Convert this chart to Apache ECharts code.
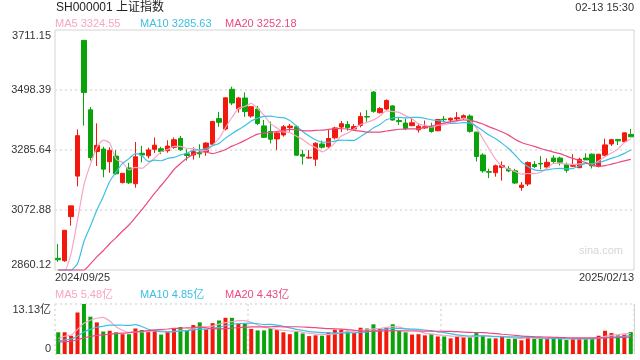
<!DOCTYPE html>
<html><head><meta charset="utf-8">
<script src="https://cdn.jsdelivr.net/npm/echarts@6/dist/echarts.min.js"></script>
<style>html,body{margin:0;padding:0;background:#fff}#c{width:640px;height:360px}</style>
</head><body><div id="c"></div>
<script>
const dates = ['2024/09/25','2024/09/26','2024/09/27','2024/09/30','2024/10/08','2024/10/09','2024/10/10','2024/10/11','2024/10/14','2024/10/15','2024/10/16','2024/10/17','2024/10/18','2024/10/21','2024/10/22','2024/10/23','2024/10/24','2024/10/25','2024/10/28','2024/10/29','2024/10/30','2024/10/31','2024/11/01','2024/11/04','2024/11/05','2024/11/06','2024/11/07','2024/11/08','2024/11/11','2024/11/12','2024/11/13','2024/11/14','2024/11/15','2024/11/18','2024/11/19','2024/11/20','2024/11/21','2024/11/22','2024/11/25','2024/11/26','2024/11/27','2024/11/28','2024/11/29','2024/12/02','2024/12/03','2024/12/04','2024/12/05','2024/12/06','2024/12/09','2024/12/10','2024/12/11','2024/12/12','2024/12/13','2024/12/16','2024/12/17','2024/12/18','2024/12/19','2024/12/20','2024/12/23','2024/12/24','2024/12/25','2024/12/26','2024/12/27','2024/12/30','2024/12/31','2025/01/02','2025/01/03','2025/01/06','2025/01/07','2025/01/08','2025/01/09','2025/01/10','2025/01/13','2025/01/14','2025/01/15','2025/01/16','2025/01/17','2025/01/20','2025/01/21','2025/01/22','2025/01/23','2025/01/24','2025/01/27','2025/02/05','2025/02/06','2025/02/07','2025/02/10','2025/02/11','2025/02/12','2025/02/13'];
const opens = [2901.42,2893.05,3049.35,3193,3674.40,3428,3280,3289,3244,3264,3170,3222,3166,3274,3265,3288,3290,3283,3295,3327,3272,3268,3276,3280,3306,3397,3360,3501,3432,3470,3406,3431,3371,3351,3325,3339,3365,3368,3270,3257,3253,3307,3297,3329,3367,3376,3360,3373,3404,3491,3418,3431,3442,3390,3381,3372,3357,3364,3368,3354,3395,3392,3396,3397,3406,3349,3268,3209,3205,3224,3219,3212,3153,3165,3234,3238,3225,3257,3257,3234,3228,3223,3257,3271,3227,3267,3307,3323,3315,3341];
const closes = [2896.31,3000.95,3087.53,3336.50,3489.78,3258.86,3301.93,3217.74,3284.32,3201.29,3202.95,3169.38,3261.56,3268.11,3285.87,3302.80,3280.26,3299.70,3322.20,3286.41,3266.24,3279.82,3272.01,3310.21,3386.99,3383.81,3470.66,3452.30,3470.07,3421.97,3439.28,3379.84,3330.73,3323.85,3346.01,3367.99,3370.40,3267.19,3263.76,3259.76,3309.78,3295.70,3326.46,3363.98,3378.81,3364.65,3368.86,3404.08,3402.53,3422.66,3432.49,3461.50,3391.88,3386.33,3361.49,3382.21,3370.03,3368.07,3351.26,3393.53,3393.35,3398.08,3400.14,3407.33,3351.76,3262.56,3211.43,3206.92,3229.64,3230.17,3211.39,3168.52,3160.76,3240.94,3227.12,3236.03,3241.82,3244.38,3242.62,3213.62,3230.16,3252.63,3250.60,3229.49,3270.66,3303.67,3322.17,3318.06,3346.39,3332.48];
const highs = [2952.45,3002,3087.53,3358.59,3674.40,3438,3380,3297,3295,3285,3204,3240,3314,3300,3294,3330,3297,3320,3330,3335,3288,3295,3306,3313,3388,3421,3472,3510,3474,3490,3440,3442,3392,3386,3348,3374,3378,3373,3286,3286,3313,3319,3359,3368,3388,3388,3377,3419,3427,3495,3438,3465,3444,3401,3397,3397,3377,3390,3382,3395,3406,3401,3420,3412,3412,3350,3274,3219,3234,3245,3229,3219,3172,3245,3246,3264,3256,3267,3262,3241,3271,3258,3274,3273,3272,3326,3325,3325,3348,3360];
const lows = [2889.05,2889,3017.46,3157,3372,3248,3229,3189,3205,3198,3167,3165,3152,3242,3256,3275,3271,3276,3290,3283,3248,3252,3258,3265,3300,3368,3355,3445,3418,3403,3400,3374,3328,3309,3286,3333,3351,3265,3234,3255,3229,3291,3293,3323,3349,3354,3354,3366,3386,3418,3415,3427,3390,3375,3356,3370,3347,3360,3347,3352,3384,3382,3386,3392,3347,3245,3205,3186,3191,3177,3207,3165,3141,3158,3222,3217,3223,3238,3231,3205,3226,3221,3250,3220,3224,3264,3300,3303,3313,3331];
const volumes = [5.7,5.7,4.8,10.9,13.13,9.8,8.3,5.9,6.1,5.7,5.2,5.2,6.7,6.3,5.9,6.3,5.1,5.8,6.6,7.1,6.2,7.6,8.3,6.5,8.1,8.8,9.5,9.5,8.0,8.0,6.6,6.2,6.2,6.8,6.3,5.7,5.2,5.9,5.4,4.7,4.9,4.8,5.7,6.4,6.4,6.1,5.5,6.9,6.7,7.8,6.6,7.0,7.8,6.1,5.7,5.1,5.2,4.9,5.3,4.6,4.6,4.1,4.6,4.4,4.5,5.5,5.0,4.1,4.1,4.6,4.0,4.1,3.6,4.7,4.0,4.0,4.0,4.0,4.0,3.7,4.0,4.2,4.0,4.1,4.8,6.1,5.5,4.9,5.1,5.8];
const prevCloses = [2848.77,2837.43,2823.11,2842.21,2811.37,2802.98,2784.28,2788.31,2765.81,2736.49,2744.19,2721.80,2717.12,2704.09,2717.28,2736.02,2736.81,2748.92,2863.13];
const prevVolumes = [2.9,2.8,3.0,2.9,2.7,2.8,2.7,2.9,2.8,2.6,2.7,2.8,2.6,2.5,2.9,2.8,3.2,3.4,5.3];
const priceTickLabels = ['2860.12','3072.88','3285.64','3498.39','3711.15'];
const volTickLabels = ['0','13.13亿'];
const dateLabels = ['2024/09/25','2025/02/13'];
const maPeriods = [5,10,20];
const maNames = ['MA5','MA10','MA20'];
const priceMaLegend = ['3324.55','3285.63','3252.18'];
const volMaLegend = ['5.48亿','4.85亿','4.43亿'];
const titleText = 'SH000001 上证指数';
const timeText = '02-13 15:30';
const watermarkText = 'sina.com';

const priceMin = 2860.12, priceMax = 3711.15;
const UP = '#f2190c', DOWN = '#0aa30a';
const maColors = ['#f8a5c2','#3cc0e4','#ec4a84'];
const FONT = '"Liberation Sans", Arial, "Noto Sans CJK SC", sans-serif';
const DOT = {color:'#e4e4e4', width:2, type:[2,3]};

function calcMA(prev, cur, n){
  const all = prev.concat(cur); const out = [];
  for (let i = 0; i < cur.length; i++){
    const idx = prev.length + i; let s = 0;
    for (let k = idx - n + 1; k <= idx; k++) s += all[k];
    out.push(s / n);
  }
  return out;
}
const candle = opens.map((o,i)=>[o, closes[i], lows[i], highs[i]]);
const volData = volumes.map((v,i)=>({value:v, itemStyle:{color: closes[i] >= opens[i] ? UP : DOWN}}));

const series = [{
  type:'candlestick', xAxisIndex:0, yAxisIndex:0, data:candle, barWidth:5,
  itemStyle:{color:UP, color0:DOWN, borderColor:UP, borderColor0:DOWN, borderWidth:1}
},{
  type:'bar', xAxisIndex:2, yAxisIndex:2, data:volData, barWidth:4
}];
maPeriods.forEach((n,k)=>{
  series.push({type:'line', xAxisIndex:0, yAxisIndex:0, clip:false, showSymbol:false, smooth:0.2,
    data: calcMA(prevCloses, closes, n).map(v=>Math.max(priceMin, v)),
    lineStyle:{color:maColors[k], width:1.2}, z:3});
  series.push({type:'line', xAxisIndex:2, yAxisIndex:2, showSymbol:false, smooth:0.2,
    data: calcMA(prevVolumes, volumes, n),
    lineStyle:{color:maColors[k], width:1.2}, z:3});
});

const txt = (text, x, y, fill, size, align) => ({type:'text', x, y, silent:true,
  style:{text, fill, font: size+'px '+FONT, align: align||'left', verticalAlign:'middle', textAlign: align||'left', textVerticalAlign:'middle'}});
const graphic = [
  txt(titleText, 56, 8, '#222', 12),
  txt(timeText, 634, 8, '#333', 11, 'right'),
  txt(watermarkText, 623, 251, '#d6d6d6', 11, 'right')
];
const legX = [55, 140, 225];
maNames.forEach((m,k)=>{
  graphic.push(txt(m+' '+priceMaLegend[k], legX[k], 24, maColors[k], 11));
  graphic.push(txt(m+' '+volMaLegend[k], legX[k], 295, maColors[k], 11));
});

const labelStyle = {color:'#333', fontSize:11, fontFamily:FONT};
const option = {
  animation:false,
  backgroundColor:'#fff',
  grid:[
    {left:55, top:30, width:579, height:240, show:true, borderColor:'#d4d4d4', borderWidth:1, outerBoundsMode:'none', containLabel:false},
    {left:55, top:304, width:579, height:50, outerBoundsMode:'none', containLabel:false}
  ],
  xAxis:[
    {type:'category', gridIndex:0, data:dates, show:false, boundaryGap:true},
    {type:'value', gridIndex:0, min:0, max:1, interval:1, position:'bottom',
     axisLine:{show:false}, axisTick:{show:false}, splitLine:{show:false},
     axisLabel:Object.assign({margin:2, formatter:(v)=>dateLabels[Math.round(v)], alignMinLabel:'left', alignMaxLabel:'right'}, labelStyle)},
    {type:'category', gridIndex:1, data:dates, show:false, boundaryGap:true},
    {type:'value', gridIndex:1, min:0, max:3, interval:1, axisLine:{show:false}, axisTick:{show:false}, axisLabel:{show:false},
     splitLine:{show:true, lineStyle:DOT}}
  ],
  yAxis:[
    {type:'value', gridIndex:0, min:priceMin, max:priceMax, show:false, position:'left'},
    {type:'value', gridIndex:0, min:0, max:4, interval:1, position:'left', axisLine:{show:false}, axisTick:{show:false},
     axisLabel:Object.assign({margin:4, formatter:(v)=>priceTickLabels[Math.round(v)], verticalAlignMinLabel:'bottom', verticalAlignMaxLabel:'top'}, labelStyle),
     splitLine:{show:true, showMinLine:false, showMaxLine:false, lineStyle:DOT}},
    {type:'value', gridIndex:1, min:0, max:Math.max(...volumes), show:false, position:'left'},
    {type:'value', gridIndex:1, min:0, max:1, interval:1, position:'left', axisLine:{show:false}, axisTick:{show:false},
     axisLabel:Object.assign({margin:4, formatter:(v)=>volTickLabels[Math.round(v)], verticalAlignMinLabel:'bottom', verticalAlignMaxLabel:'top'}, labelStyle),
     splitLine:{show:true, lineStyle:DOT}},
    {type:'value', gridIndex:1, min:0, max:1, position:'right', axisLine:{show:true, lineStyle:{color:'#d4d4d4'}}, axisTick:{show:false}, axisLabel:{show:false}, splitLine:{show:false}}
  ],
  graphic: graphic,
  series: series
};
const chart = echarts.init(document.getElementById('c'), null, {renderer:'canvas'});
chart.setOption(option);
</script></body></html>
